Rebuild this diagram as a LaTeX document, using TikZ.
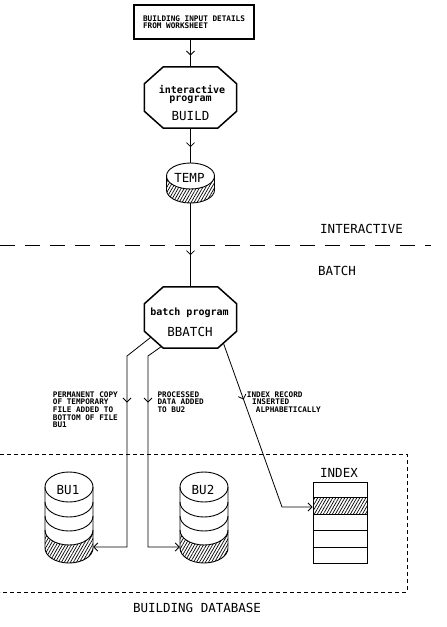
\documentclass[tikz,border=0pt]{standalone}
\usepackage{fontspec}
\newfontfamily\dvm{DejaVu Sans Mono}
\usetikzlibrary{arrows.meta,decorations.markings,patterns.meta,calc}
\tikzset{
  vhead/.tip={Straight Barb[length=4pt,width=8pt,line width=0.8pt]},
  midv/.style={postaction={decorate},decoration={markings,mark=at position #1 with {\arrow{vhead}}}},
  conn/.style={line width=0.8pt},
  octline/.style={line width=1.5pt,line join=miter},
  dbline/.style={line width=0.9pt},
  hatch/.style={pattern={Lines[angle=60,distance=2.6pt,line width=0.7pt]}},
  bigtxt/.style={font=\dvm\fontsize{12.5}{13}\selectfont, inner sep=0pt},
  smalltxt/.style={font=\dvm\bfseries\fontsize{7.7}{7.6}\selectfont, inner sep=0pt, align=left},
  prgtxt/.style={font=\dvm\bfseries\fontsize{10}{10}\selectfont, inner sep=0pt},
  geom/.style={rectangle, inner sep=0pt},
  pics/stackdb/.style={code={
    \fill[hatch] (-24,43) arc[start angle=180,end angle=360,x radius=24pt,y radius=15pt] -- (24,61) arc[start angle=0,end angle=-180,x radius=24pt,y radius=15pt] -- cycle;
    \draw[dbline] (-24,0) -- (-24,61) arc[start angle=180,end angle=360,x radius=24pt,y radius=15pt] -- (24,0);
    \draw[dbline] (0,0) ellipse[x radius=24pt,y radius=15pt];
    \foreach \yy in {15,29,43} \draw[dbline] (-24,\yy) arc[start angle=180,end angle=360,x radius=24pt,y radius=15pt];
  }},
}
\newcommand\drawoct[1]{\draw[octline] ([xshift=19pt]#1.north west) -- ([xshift=-19pt]#1.north east) -- ([yshift=-17pt]#1.north east) -- ([yshift=17pt]#1.south east) -- ([xshift=-19pt]#1.south east) -- ([xshift=19pt]#1.south west) -- ([yshift=17pt]#1.south west) -- ([yshift=-17pt]#1.north west) -- cycle;}
\begin{document}
\begin{tikzpicture}[x=1pt,y=-1pt]
\useasboundingbox (0,0) rectangle (447,627);

% source box
\node[draw, line width=1.1pt, minimum width=120pt, minimum height=34pt, smalltxt] (src) at (194,22) {BUILDING INPUT DETAILS\\FROM WORKSHEET};

% BUILD octagon
\node[geom, minimum width=92pt, minimum height=61pt] (build) at (190.5,97.5) {};
\drawoct{build}
\node[prgtxt, anchor=base] (buildt1) at (192,93) {interactive};
\node[prgtxt, anchor=base] (buildt2) at (190.5,101.5) {program};
\node[bigtxt, anchor=base] (buildt3) at (190.5,120) {BUILD};

% TEMP disk
\node[geom, minimum width=48pt, minimum height=40pt] (temp) at (190.5,183) {};
\fill[hatch] (166.5,176) arc[start angle=180,end angle=360,x radius=24pt,y radius=13pt] -- (214.5,190) arc[start angle=0,end angle=-180,x radius=24pt,y radius=13pt] -- cycle;
\draw[dbline] (166.5,176) -- (166.5,190) arc[start angle=180,end angle=360,x radius=24pt,y radius=13pt] -- (214.5,176);
\draw[dbline] (190.5,176) ellipse[x radius=24pt,y radius=13pt];
\node[bigtxt, anchor=base] (tempt) at (189.5,182) {TEMP};

% separator
\draw[line width=0.9pt, dash pattern=on 15pt off 10pt] (0,245) -- (431,245);
\node[bigtxt, anchor=base west] (inter) at (320,233) {INTERACTIVE};
\node[bigtxt, anchor=base west] (batch) at (318,275) {BATCH};

% BBATCH octagon
\node[geom, minimum width=92pt, minimum height=61pt] (bb) at (190.5,317.5) {};
\drawoct{bb}
\node[prgtxt, anchor=base] (bbt1) at (189.5,315) {batch program};
\node[bigtxt, anchor=base] (bbt2) at (190,336) {BBATCH};

% database box
\draw[line width=0.9pt, dash pattern=on 4pt off 3pt] (0,454) -- (407,454) -- (407,592) -- (0,592);
\node[bigtxt, anchor=base] (dbl) at (197,612) {BUILDING DATABASE};

% BU1, BU2
\pic at (69,487) {stackdb};
\node[geom, minimum width=48pt, minimum height=91pt] (bu1) at (69,517.5) {};
\node[bigtxt, anchor=base] (bu1t) at (68,494) {BU1};
\pic at (204,487) {stackdb};
\node[geom, minimum width=48pt, minimum height=91pt] (bu2) at (204,517.5) {};
\node[bigtxt, anchor=base] (bu2t) at (203,494) {BU2};

% INDEX
\node[geom, draw, dbline, minimum width=54pt, minimum height=81pt] (index) at (340,522.5) {};
\fill[hatch] (313,497) rectangle (367,514);
\draw[dbline] (313,497) -- (367,497) (313,514) -- (367,514) (313,530) -- (367,530) (313,547) -- (367,547);
\node[geom, draw, dbline, minimum width=54pt, minimum height=81pt] (index2) at (340,522.5) {};
\node[bigtxt, anchor=base] (indext) at (339,477) {INDEX};

% connectors
\draw[conn, midv=16pt] (build.north |- src.south) -- (build.north);
\draw[conn, midv=19pt] (build.south) -- (temp.north);
\draw[conn, midv=52pt] (temp.south) -- (bb.north);

\coordinate (bbA) at ($([yshift=17pt]bb.south west)!0.35!([xshift=19pt]bb.south west)$);
\coordinate (bbB) at ($([yshift=17pt]bb.south west)!0.9!([xshift=19pt]bb.south west)$);
\coordinate (bbC) at ($([xshift=-19pt]bb.south east)!0.3!([yshift=17pt]bb.south east)$);
\coordinate (k1) at (127,356);
\coordinate (k2) at (127,547);
\coordinate (k3) at (148,356);
\coordinate (k4) at (148,547);
\coordinate (k5) at (282,507);

\draw[conn, midv=77pt, -{vhead}] (bbA) -- (k1) -- (k2) -- (bu1.east |- k2);
\draw[conn, midv=63pt, -{vhead}] (bbB) -- (k3) -- (k4) -- (bu2.west |- k4);
\draw[conn, midv=60pt, -{vhead}] (bbC) -- (k5) -- (index.west |- k5);

% labels
\node[smalltxt, anchor=north west] (lab1) at (52.7,391.4) {PERMANENT COPY\\OF TEMPORARY\\FILE ADDED TO\\BOTTOM OF FILE\\BU1};
\node[smalltxt, anchor=north west] (lab2) at (157.3,391.4) {PROCESSED\\DATA ADDED\\TO BU2};
\node[smalltxt, anchor=north west] (lab3) at (246.7,391.4) {INDEX RECORD\\\hspace*{5.3pt}INSERTED\\\hspace*{9pt}ALPHABETICALLY};
\end{tikzpicture}
\end{document}
